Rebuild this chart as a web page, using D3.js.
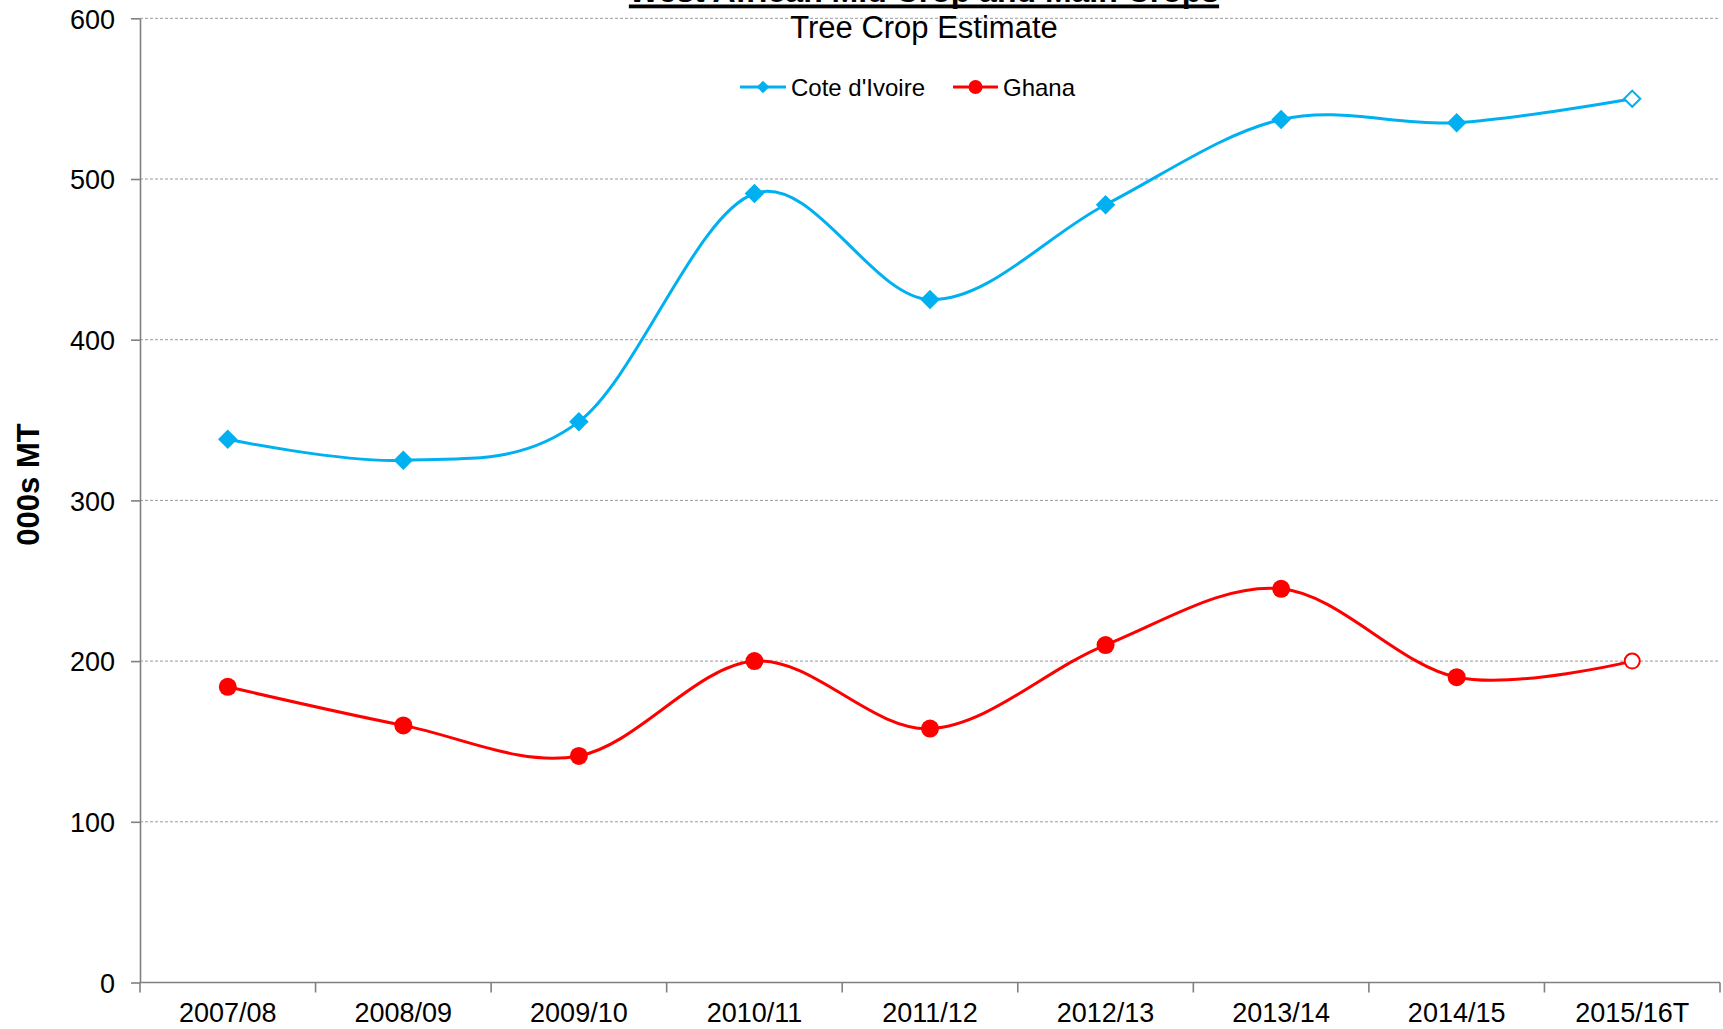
<!DOCTYPE html>
<html>
<head>
<meta charset="utf-8">
<script src="https://cdn.jsdelivr.net/npm/d3@7"></script>
<style>
  html, body { margin: 0; padding: 0; background: #fff; }
  svg { display: block; font-family: "Liberation Sans", Arial, sans-serif; }
</style>
</head>
<body>
<svg id="chart" width="1723" height="1029"></svg>
<script>
// ---- Data ----
const categories = ["2007/08", "2008/09", "2009/10", "2010/11", "2011/12", "2012/13", "2013/14", "2014/15", "2015/16T"];
const coteDIvoire = [338, 325, 349, 491, 425, 484, 537, 535, 550];
const ghana = [184, 160, 141, 200, 158, 210, 245, 190, 200];
const yTicks = [0, 100, 200, 300, 400, 500, 600];
const estimateCategories = ["2015/16T"]; // drawn with hollow markers
const titleText = "West African Mid Crop and Main Crops";
const subtitleText = "Tree Crop Estimate";
const yAxisTitle = "000s MT";

const series = [
  { name: "Cote d'Ivoire", values: coteDIvoire, color: "#00B0F0", marker: "diamond" },
  { name: "Ghana", values: ghana, color: "#FF0000", marker: "circle" }
];

// ---- Layout ----
const svg = d3.select("#chart");
const plot = { left: 140, right: 1720, top: 18.3, bottom: 982.5 };

const x = d3.scaleBand().domain(categories).range([plot.left, plot.right]).paddingInner(0).paddingOuter(0);
const y = d3.scaleLinear().domain([0, 600]).range([plot.bottom, plot.top]);
const cx = c => x(c) + x.bandwidth() / 2;

// gridlines
svg.append("g").selectAll("line")
  .data(yTicks.filter(t => t !== 0))
  .join("line")
  .attr("x1", plot.left).attr("x2", plot.right)
  .attr("y1", d => y(d)).attr("y2", d => y(d))
  .attr("stroke", "#9a9a9a").attr("stroke-width", 1)
  .attr("stroke-dasharray", "3,2");

// y axis
const yAxis = svg.append("g")
  .attr("transform", `translate(${plot.left},0)`)
  .call(d3.axisLeft(y).tickValues(yTicks).tickSize(9).tickSizeOuter(0).tickPadding(16).tickFormat(d3.format("d")));
yAxis.select(".domain").attr("stroke", "#808080").attr("stroke-width", 1.6);
yAxis.selectAll(".tick line").attr("stroke", "#808080").attr("stroke-width", 1.6);
yAxis.selectAll(".tick text")
  .attr("font-size", 27).attr("fill", "#000")
  .attr("font-family", "Liberation Sans, Arial, sans-serif")
  .attr("dy", "0.36em");

// x axis
const xAxisG = svg.append("g");
xAxisG.append("line")
  .attr("x1", plot.left).attr("x2", plot.right)
  .attr("y1", y(0)).attr("y2", y(0))
  .attr("stroke", "#808080").attr("stroke-width", 1.6);
const boundaries = categories.map(c => x(c)).concat([x.range()[1]]);
xAxisG.selectAll("line.tk")
  .data(boundaries)
  .join("line")
  .attr("class", "tk")
  .attr("x1", d => d).attr("x2", d => d)
  .attr("y1", y(0)).attr("y2", y(0) + 10)
  .attr("stroke", "#808080").attr("stroke-width", 1.6);
xAxisG.selectAll("text")
  .data(categories)
  .join("text")
  .attr("x", d => cx(d))
  .attr("y", y(0) + 39.5)
  .attr("text-anchor", "middle")
  .attr("font-size", 27)
  .attr("fill", "#000")
  .text(d => d);

// lines
const line = d3.line()
  .x((d, i) => cx(categories[i]))
  .y(d => y(d))
  .curve(d3.curveCardinal.tension(0));

series.forEach(s => {
  svg.append("path")
    .datum(s.values)
    .attr("d", line)
    .attr("fill", "none")
    .attr("stroke", s.color)
    .attr("stroke-width", 3);
});

// markers
series.forEach(s => {
  const pts = s.values.map((v, i) => ({ c: categories[i], v, hollow: estimateCategories.includes(categories[i]) }));
  const g = svg.append("g");
  if (s.marker === "diamond") {
    g.selectAll("path").data(pts).join("path")
      .attr("d", d => d3.symbol().type(d3.symbolSquare).size(d.hollow ? 130 : 190)())
      .attr("transform", d => `translate(${cx(d.c)},${y(d.v)}) rotate(45)`)
      .attr("fill", d => d.hollow ? "#fff" : s.color)
      .attr("stroke", s.color)
      .attr("stroke-width", d => d.hollow ? 2 : 0);
  } else {
    g.selectAll("circle").data(pts).join("circle")
      .attr("cx", d => cx(d.c)).attr("cy", d => y(d.v))
      .attr("r", d => d.hollow ? 7.5 : 9)
      .attr("fill", d => d.hollow ? "#fff" : s.color)
      .attr("stroke", s.color)
      .attr("stroke-width", d => d.hollow ? 2 : 0);
  }
});

// title (mostly cut off at top) with underline
const title = svg.append("text")
  .attr("x", 924).attr("y", 2)
  .attr("text-anchor", "middle")
  .attr("font-size", 32).attr("font-weight", "bold")
  .attr("fill", "#000")
  .text(titleText);
const tw = title.node().getComputedTextLength();
svg.append("rect")
  .attr("x", 924 - tw / 2).attr("y", 4.5)
  .attr("width", tw).attr("height", 3.8)
  .attr("fill", "#000");

// subtitle
svg.append("text")
  .attr("x", 924).attr("y", 37.5)
  .attr("text-anchor", "middle")
  .attr("font-size", 31)
  .attr("fill", "#000")
  .text(subtitleText);

// y axis title
svg.append("text")
  .attr("transform", "translate(39,484.5) rotate(-90)")
  .attr("text-anchor", "middle")
  .attr("font-size", 31).attr("font-weight", "bold")
  .attr("fill", "#000")
  .text(yAxisTitle);

// legend
const legendItems = [
  { s: series[0], x0: 740, x1: 786, tx: 791 },
  { s: series[1], x0: 953, x1: 998, tx: 1003 }
];
const ly = 87;
legendItems.forEach(li => {
  const g = svg.append("g");
  g.append("line").attr("x1", li.x0).attr("x2", li.x1).attr("y1", ly).attr("y2", ly)
    .attr("stroke", li.s.color).attr("stroke-width", 3);
  const mx = (li.x0 + li.x1) / 2;
  if (li.s.marker === "diamond") {
    g.append("path").attr("d", d3.symbol().type(d3.symbolSquare).size(80)())
      .attr("transform", `translate(${mx},${ly}) rotate(45)`)
      .attr("fill", li.s.color);
  } else {
    g.append("circle").attr("cx", mx).attr("cy", ly).attr("r", 7).attr("fill", li.s.color);
  }
  g.append("text").attr("x", li.tx).attr("y", ly + 9)
    .attr("font-size", 24).attr("fill", "#000")
    .text(li.s.name);
});
</script>
</body>
</html>
